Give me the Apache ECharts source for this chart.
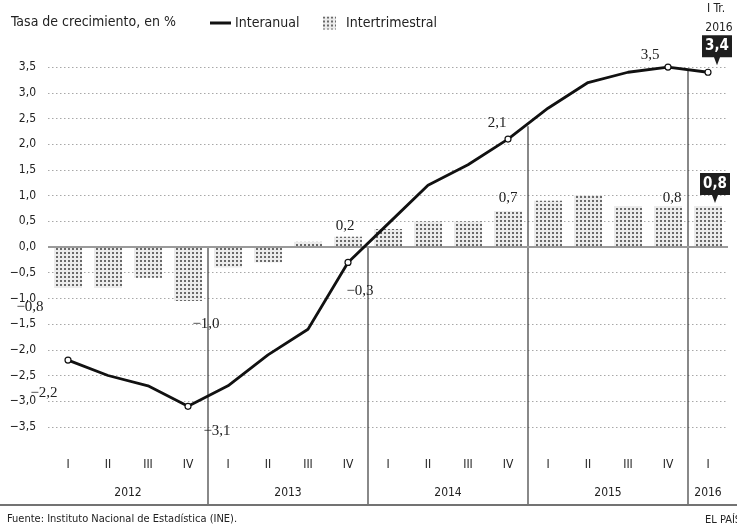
<!DOCTYPE html>
<html><head><meta charset="utf-8">
<script src="https://cdn.jsdelivr.net/npm/echarts@6/dist/echarts.min.js"></script>
<style>html,body{margin:0;padding:0;background:#fff}#c{width:737px;height:525px}</style>
</head><body><div id="c"></div>
<script>
// ---- data ----
const quarters = ['I','II','III','IV','I','II','III','IV','I','II','III','IV','I','II','III','IV','I'];
const quarterYears = ['2012','2012','2012','2012','2013','2013','2013','2013','2014','2014','2014','2014','2015','2015','2015','2015','2016'];
const interanual = [-2.2,-2.5,-2.7,-3.1,-2.7,-2.1,-1.6,-0.3,0.45,1.2,1.6,2.1,2.7,3.2,3.4,3.5,3.4];
const intertrimestral = [-0.8,-0.8,-0.6,-1.05,-0.4,-0.3,0.1,0.2,0.35,0.5,0.5,0.7,0.9,1.0,0.8,0.8,0.8];
const interanualLabels = {0:'−2,2',3:'−3,1',7:'−0,3',11:'2,1',15:'3,5'};
const intertrimestralLabels = {0:'−0,8',3:'−1,0',7:'0,2',11:'0,7',15:'0,8'};
const lastInteranualText = '3,4';
const lastIntertrimestralText = '0,8';
const yearNames = ['2012','2013','2014','2015','2016'];
const yearCenters = [1.5, 5.5, 9.5, 13.5, 16];
const separatorPos = [3.5, 7.5, 11.5, 15.5];
const separatorTop = [0, 0, 2.35, 3.45];
const yMin = -5, yMax = 4, yStep = 0.5, yLabelMin = -3.5, yLabelMax = 3.5;

// ---- styling helpers ----
const NARROW = "'Liberation Sans Narrow','DejaVu Sans Condensed','Liberation Sans',sans-serif";
const SERIF = "'Liberation Serif','DejaVu Serif',serif";
const fmt = v => (v < 0 ? '−' : '') + Math.abs(v).toFixed(1).replace('.', ',');
const cats = quarters.map((q, i) => quarterYears[i] + ' ' + q);

const lineLabelOffsets = {0:[-24,33],3:[29,25],7:[12,29],11:[-11,-16],15:[-18,-12]};
const barLabelOffsets = {0:[-38,40],3:[18,50],7:[-3,-16],11:[0,-31],15:[4,-28]};

const splitColors = [];
for (let v = yMin; v <= yMax + 1e-9; v += yStep) {
  const r = Math.round(v * 10) / 10;
  splitColors.push(r >= yLabelMin && r <= yLabelMax && r !== 0 ? '#a8a8a8' : 'rgba(0,0,0,0)');
}

const lineData = interanual.map((v, i) => {
  const item = { value: v };
  if (interanualLabels[i] !== undefined) {
    item.symbol = 'circle';
    item.label = { show: true, position: 'inside', offset: lineLabelOffsets[i], formatter: interanualLabels[i] };
  } else if (i === interanual.length - 1) {
    item.symbol = 'circle';
  } else {
    item.symbol = 'none';
  }
  return item;
});
const barData = intertrimestral.map((v, i) => {
  const item = { value: v };
  if (intertrimestralLabels[i] !== undefined) {
    item.label = { show: true, position: 'inside', offset: barLabelOffsets[i], formatter: intertrimestralLabels[i] };
  }
  return item;
});

const calloutPath = 'path://M0,0H30V22H18L15,30L12,22H0Z';

const separatorSeries = separatorPos.map((p, i) => ({
  type: 'line', xAxisIndex: 2, yAxisIndex: 0, silent: true, symbol: 'none',
  data: [[p, separatorTop[i]], [p, yMin]],
  lineStyle: { color: '#3a3a3a', width: 1.2 }, z: 1
}));

const chart = echarts.init(document.getElementById('c'), null, { renderer: 'canvas' });
chart.setOption({
  animation: false,
  backgroundColor: '#fff',
  title: [
    { text: 'Tasa de crecimiento, en %', left: 6, top: 10,
      textStyle: { fontFamily: NARROW, fontSize: 14, fontWeight: 'normal', color: '#222' } },
    { text: 'Fuente: Instituto Nacional de Estadística (INE).', left: 2, top: 509,
      textStyle: { fontFamily: NARROW, fontSize: 11, fontWeight: 'normal', color: '#222' } },
    { text: 'EL PAÍS', left: 700, top: 510,
      textStyle: { fontFamily: NARROW, fontSize: 11, fontWeight: 'normal', color: '#222' } }
  ],
  legend: [
    { data: [{ name: 'Interanual', itemStyle: { color: '#111', borderWidth: 0 } }],
      left: 205, top: 11, icon: 'rect', itemWidth: 21, itemHeight: 3,
      textStyle: { fontFamily: NARROW, fontSize: 14, color: '#222', padding: [0,0,0,-1] } },
    { data: ['Intertrimestral'], left: 318, top: 11, icon: 'rect', itemWidth: 13, itemHeight: 13,
      textStyle: { fontFamily: NARROW, fontSize: 14, color: '#222', padding: [0,0,0,5] } }
  ],
  grid: { left: 48, right: 9, top: 41.4, bottom: 21, containLabel: false },
  xAxis: [
    { type: 'category', data: cats, boundaryGap: true, position: 'bottom', offset: -53,
      axisLine: { show: false }, axisTick: { show: false }, splitLine: { show: false },
      axisLabel: { interval: 0, margin: 8, formatter: v => v.split(' ')[1],
        fontFamily: NARROW, fontSize: 12, color: '#222' } },
    { type: 'value', min: -0.5, max: 16.5, position: 'bottom', offset: -25,
      axisLine: { show: false }, axisTick: { show: false }, splitLine: { show: false },
      axisLabel: { customValues: yearCenters, margin: 8,
        formatter: v => { const k = yearCenters.indexOf(v); return k >= 0 ? yearNames[k] : ''; },
        fontFamily: NARROW, fontSize: 12, color: '#222' } },
    { type: 'value', min: -0.5, max: 16.5, show: false }
  ],
  yAxis: [{
    type: 'value', min: yMin, max: yMax, interval: yStep,
    axisLine: { show: false }, axisTick: { show: false },
    axisLabel: { margin: 12, fontFamily: NARROW, fontSize: 12, color: '#222',
      formatter: v => (v >= yLabelMin - 1e-9 && v <= yLabelMax + 1e-9) ? fmt(v) : '' },
    splitLine: { show: true, lineStyle: { color: splitColors, type: [1.5, 2.5], width: 1 } }
  }],
  series: [
    { name: 'Intertrimestral', type: 'bar', xAxisIndex: 0, data: barData, barWidth: 28, z: 2,
      itemStyle: { color: '#ececec',
        decal: { symbol: 'rect', symbolSize: 1, color: '#6a6a6a', dashArrayX: [[1.2, 1.8]], dashArrayY: [1.2, 1.8] } },
      label: { fontFamily: SERIF, fontSize: 15, color: '#222' },
      markLine: { silent: true, symbol: 'none', label: { show: false },
        lineStyle: { color: '#9a9a9a', width: 2, type: 'solid' }, data: [{ yAxis: 0 }] },
      markPoint: { symbol: calloutPath, symbolSize: [30, 30], symbolOffset: [7, -18],
        itemStyle: { color: '#1e1e1e' },
        label: { show: true, color: '#fff', fontFamily: NARROW, fontWeight: 'bold', fontSize: 15, offset: [0, -4] },
        data: [{ coord: [cats[cats.length - 1], intertrimestral[intertrimestral.length - 1]], value: lastIntertrimestralText }] }
    },
    { name: 'Interanual', type: 'line', xAxisIndex: 0, data: lineData, z: 5,
      symbol: 'none', symbolSize: 6, showSymbol: true,
      lineStyle: { color: '#111', width: 2.8 },
      itemStyle: { color: '#fff', borderColor: '#111', borderWidth: 1.2 },
      label: { fontFamily: SERIF, fontSize: 15, color: '#222' },
      markPoint: { symbol: calloutPath, symbolSize: [30, 30], symbolOffset: [9, -22],
        itemStyle: { color: '#1e1e1e' },
        label: { show: true, color: '#fff', fontFamily: NARROW, fontWeight: 'bold', fontSize: 15, offset: [0, -4] },
        data: [{ coord: [cats[cats.length - 1], interanual[interanual.length - 1]], value: lastInteranualText }] }
    }
  ].concat(separatorSeries),
  graphic: [
    { type: 'text', x: 716, y: 3,
      style: { text: 'I Tr.', textAlign: 'center', font: "12px " + NARROW, fill: '#222' } },
    { type: 'text', x: 719, y: 22,
      style: { text: '2016', textAlign: 'center', font: "12px " + NARROW, fill: '#222' } },
    { type: 'line', shape: { x1: 0, y1: 505, x2: 737, y2: 505 }, style: { stroke: '#444', lineWidth: 1.5 }, silent: true }
  ]
});
</script></body></html>
